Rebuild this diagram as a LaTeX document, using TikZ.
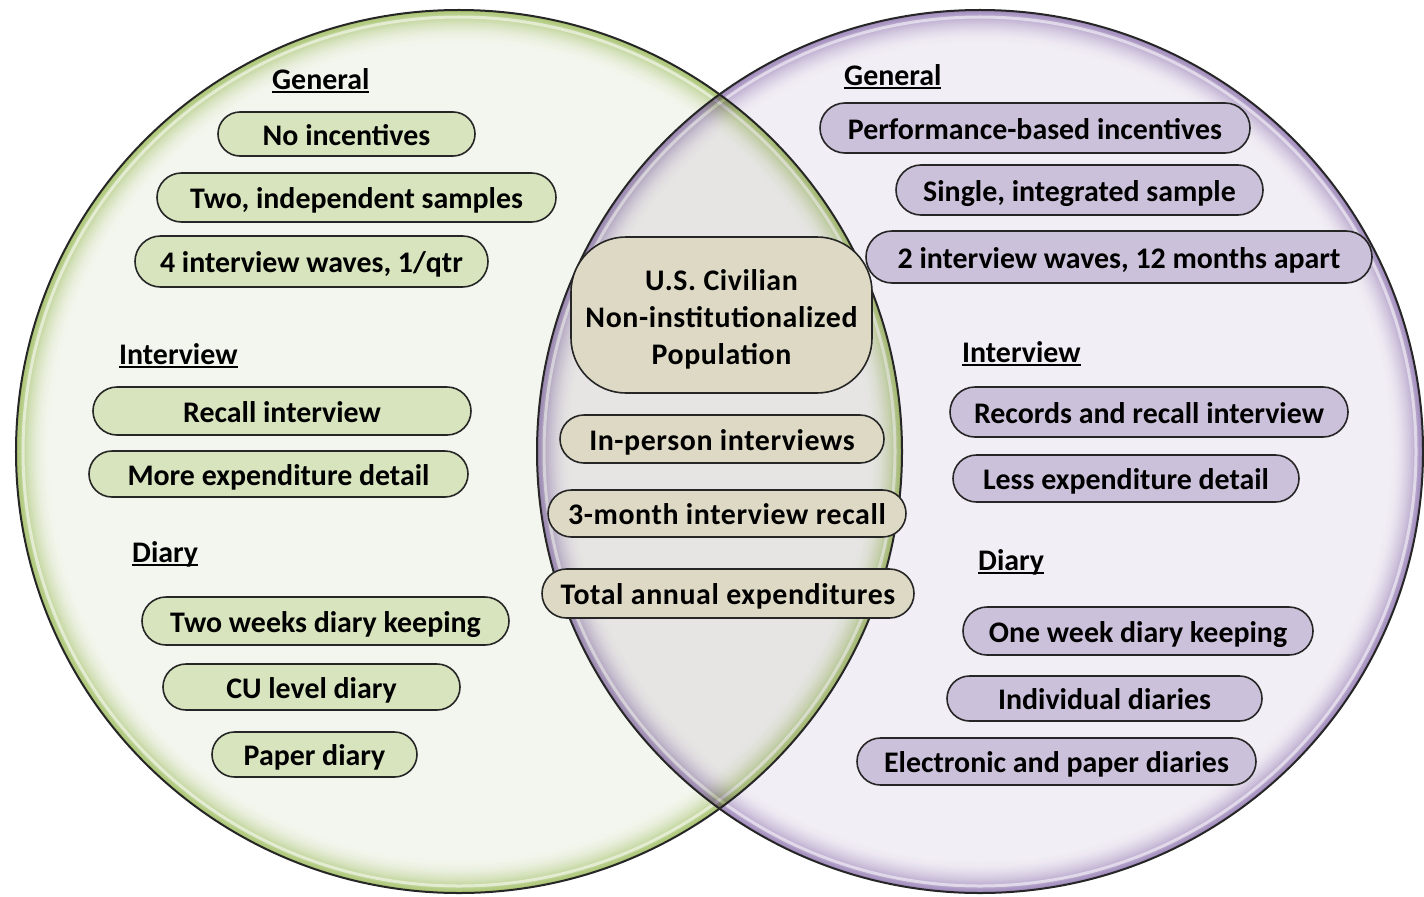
\documentclass[tikz,border=0pt]{standalone}
\usepackage{fontspec}
\setmainfont{Carlito}
\newfontfamily\widefont{Carlito}[LetterSpace=2]
\usetikzlibrary{shapes.misc}

\definecolor{grim}{HTML}{A3C066}
\definecolor{gfill}{HTML}{F3F6EE}
\definecolor{prim}{HTML}{9880B6}
\definecolor{pfill}{HTML}{F2EEF5}
\definecolor{pillgreen}{HTML}{D7E4BD}
\definecolor{pillpurple}{HTML}{CCC1DA}
\definecolor{pilltan}{HTML}{DDD9C4}
\definecolor{edge}{HTML}{262626}

\newcommand\pilltext{\fontsize{30}{37}\selectfont\bfseries}
\newcommand\midtext{\fontsize{30}{37}\selectfont\widefont\bfseries}
\newcommand\ulbox[1]{\setbox0\hbox{#1}\rlap{\rule[-3.5bp]{\wd0}{1.8bp}}\box0}

% one shaded lobe of the diagram: centre, rim colour, fill colour
\newcommand\lobe[3]{%
  \begin{scope}
    \clip #1 ellipse [x radius=443bp, y radius=441.5bp];
    \fill[#3] #1 ellipse [x radius=443bp, y radius=441.5bp];
    \foreach \d in {34,32,...,2} {
      \pgfmathsetmacro\p{100*(1-\d/36)^2}
      \pgfmathsetmacro\w{2*\d}
      \draw[line width=\w bp, color=#2!\p!#3] #1 ellipse [x radius=443bp, y radius=441.5bp];
    }
    \draw[white, opacity=.55, line width=3bp] #1 ellipse [x radius=436bp, y radius=434.5bp];
  \end{scope}}

\tikzset{
  pillbase/.style={rounded rectangle, draw=edge, line width=1.6bp, inner sep=0pt,
    text height=22bp, text depth=0bp},
  pillG/.style={pillbase, fill=pillgreen, font=\pilltext},
  pillP/.style={pillbase, fill=pillpurple, font=\pilltext},
  pillC/.style={pillbase, fill=pilltan, font=\midtext},
  popbox/.style={rectangle, rounded corners=55bp, draw=edge, line width=1.6bp,
    fill=pilltan, inner sep=0pt, align=center, font=\midtext},
  heading/.style={anchor=base west, inner sep=0pt, font=\pilltext},
}

\begin{document}
\begin{tikzpicture}[x=1bp, y=-1bp]
  \useasboundingbox (0,0) rectangle (1424,896);
  \fill[white] (0,0) rectangle (1424,896);

  \coordinate (gc) at (459,451.5);
  \coordinate (pc) at (980,451.5);

  % the two sets; where they overlap the purple one is multiplied over the green
  \lobe{(pc)}{prim}{pfill}
  \lobe{(gc)}{grim}{gfill}
  \begin{scope}
    \clip (gc) ellipse [x radius=443bp, y radius=441.5bp];
    \begin{scope}[blend mode=multiply]
      \begin{scope}[transparency group]
        \lobe{(pc)}{prim}{pfill}
      \end{scope}
    \end{scope}
  \end{scope}
  \draw[edge, line width=2bp] (gc) ellipse [x radius=443bp, y radius=441.5bp];
  \draw[edge, line width=2bp] (pc) ellipse [x radius=443bp, y radius=441.5bp];

  % left set
  \node[heading] (lgen) at (272,89) {\ulbox{General}};
  \node[pillG, minimum width=257bp, minimum height=44bp] (l1) at (346.5,134) {No incentives};
  \node[pillG, minimum width=399bp, minimum height=49bp] (l2) at (356.5,197.5) {Two, independent samples};
  \node[pillG, minimum width=353bp, minimum height=51bp] (l3) at (311.5,261.5) {4 interview waves, 1/qtr};
  \node[heading] (lint) at (119,364) {\ulbox{Interview}};
  \node[pillG, minimum width=378bp, minimum height=48bp] (l4) at (282,411) {Recall interview};
  \node[pillG, minimum width=379bp, minimum height=46bp] (l5) at (278.5,474) {More expenditure detail};
  \node[heading] (ldia) at (132,562) {\ulbox{Diary}};
  \node[pillG, minimum width=367bp, minimum height=48bp] (l6) at (325.5,621) {Two weeks diary keeping};
  \node[pillG, minimum width=297bp, minimum height=46bp] (l7) at (311.5,687) {CU level diary};
  \node[pillG, minimum width=205bp, minimum height=45bp] (l8) at (314.5,754.5) {Paper diary};

  % right set
  \node[heading] (rgen) at (844,85) {\ulbox{General}};
  \node[pillP, minimum width=430bp, minimum height=50bp] (r1) at (1035,128) {Performance-based incentives};
  \node[pillP, minimum width=367bp, minimum height=50bp] (r2) at (1079.5,190) {Single, integrated sample};
  \node[pillP, minimum width=506bp, minimum height=52bp] (r3) at (1119,257) {2 interview waves, 12 months apart};
  \node[heading] (rint) at (962,362) {\ulbox{Interview}};
  \node[pillP, minimum width=398bp, minimum height=50bp] (r4) at (1149,412) {Records and recall interview};
  \node[pillP, minimum width=346bp, minimum height=47bp] (r5) at (1126,478.5) {Less expenditure detail};
  \node[heading] (rdia) at (978,570) {\ulbox{Diary}};
  \node[pillP, minimum width=350bp, minimum height=48bp] (r6) at (1138,631) {One week diary keeping};
  \node[pillP, minimum width=315bp, minimum height=45bp] (r7) at (1104.5,698.5) {Individual diaries};
  \node[pillP, minimum width=399bp, minimum height=47bp] (r8) at (1056.5,761.5) {Electronic and paper diaries};

  % shared features
  \node[popbox, minimum width=301bp, minimum height=156bp] (pop) at (721.5,315)
    {\rule{0pt}{30bp}U.S. Civilian\\Non-institutionalized\\Population};
  \node[pillC, minimum width=324bp, minimum height=48bp] (c1) at (722,439) {In-person interviews};
  \node[pillC, minimum width=358bp, minimum height=47bp] (c2) at (727,513.5) {3-month interview recall};
  \node[pillC, minimum width=372bp, minimum height=49bp] (c3) at (728,593.5) {Total annual expenditures};
\end{tikzpicture}
\end{document}
